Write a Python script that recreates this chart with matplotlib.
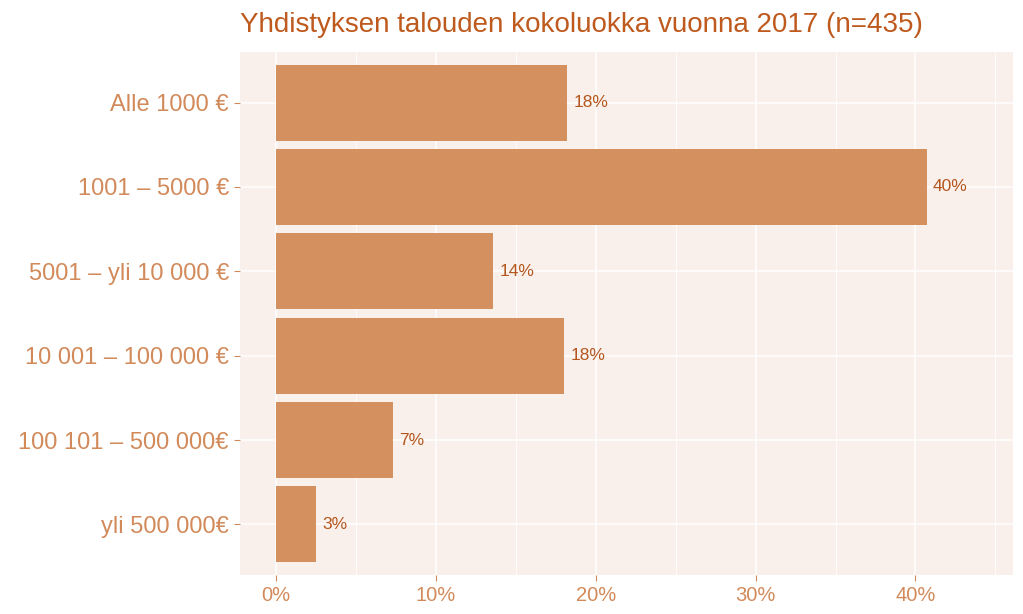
import matplotlib.pyplot as plt
from matplotlib.ticker import MultipleLocator, FuncFormatter

plt.rcParams['font.family'] = ['Liberation Sans', 'DejaVu Sans']

categories = ["Alle 1000 €", "1001 – 5000 €", "5001 – yli 10 000 €",
              "10 001 – 100 000 €", "100 101 – 500 000€", "yli 500 000€"]
values = [18.2, 40.7, 13.6, 18.0, 7.3, 2.5]
labels = ["18%", "40%", "14%", "18%", "7%", "3%"]

bar_col = "#D4905F"
text_col = "#D28A5A"
title_col = "#BF5A1E"
val_col = "#B4561E"
panel_bg = "#F9F0EB"

fig = plt.figure(figsize=(10.23, 6.14), dpi=100)
ax = fig.add_axes([240/1023, 39/614, 773/1023, 523/614])
ax.set_facecolor(panel_bg)

y = list(range(len(categories)))
ax.barh(y, values, height=0.9, color=bar_col, zorder=3)
for yi, v, lab in zip(y, values, labels):
    ax.text(v + 0.4, yi, lab, va="center", ha="left", fontsize=12.5, color=val_col, zorder=4)

ax.set_xlim(-2.25, 46.1)
ax.set_ylim(len(categories) - 0.4, -0.6)
ax.set_yticks(y)
ax.set_yticklabels(categories, fontsize=17, color=text_col)
ax.xaxis.set_major_locator(MultipleLocator(10))
ax.xaxis.set_minor_locator(MultipleLocator(5))
ax.xaxis.set_major_formatter(FuncFormatter(lambda x, p: f"{x:.0f}%"))
ax.tick_params(axis="x", labelsize=14.5, labelcolor=text_col, color=text_col, length=4, pad=4)
ax.tick_params(axis="x", which="minor", length=0)
ax.tick_params(axis="y", color=text_col, length=4, pad=4)
ax.grid(True, which="major", color="white", linewidth=1.1, zorder=0)
ax.grid(True, which="minor", axis="x", color="white", linewidth=0.6, zorder=0)
for s in ax.spines.values():
    s.set_visible(False)

fig.text(240/1023, 1 - 25/614, "Yhdistyksen talouden kokoluokka vuonna 2017 (n=435)",
         fontsize=20, color=title_col, va="center", ha="left")

fig.savefig("out.png", dpi=100)
